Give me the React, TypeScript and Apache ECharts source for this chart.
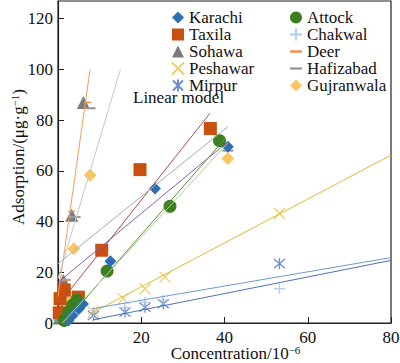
import React, { useEffect, useRef } from "react";
import * as echarts from "echarts";

const FONT = "Liberation Serif";

// Series names
const legendCol1 = ["Karachi", "Taxila", "Sohawa", "Peshawar", "Mirpur"];
const legendCol2 = ["Attock", "Chakwal", "Deer", "Hafizabad", "Gujranwala"];

// Measured points [concentration, adsorption]
const karachi = [[2.5, 1], [3.5, 3], [5, 5.5], [6, 7.5], [12.6, 24.4], [23.3, 53], [40.8, 69.5]];
const taxila = [[0.3, 4], [0.5, 9.6], [1.5, 13], [4.9, 10.2], [10.5, 28.7], [19.7, 60.5], [36.6, 76.7]];
const sohawa = [[0.3, 2], [0.8, 5], [1.3, 16.8], [3.3, 42.5], [6.1, 87]];
const peshawar = [[8.5, 4.3], [15.7, 9.6], [20.9, 13.5], [25.7, 18.1], [53.2, 43.2]];
const mirpur = [[8.5, 3], [16.1, 4.3], [20.9, 6.2], [25.3, 7.6], [53.2, 23.4]];
const attock = [[1.5, 1], [2.5, 4], [3.5, 7], [4.5, 9], [11.8, 20.5], [26.9, 46], [38.8, 71.9]];
const chakwal = [[8.5, 4], [16, 6], [20.9, 8.2], [25.3, 9], [53.2, 13.5]];
const deer = [[0.3, 3], [0.8, 8], [1.8, 17], [3.3, 44], [7.1, 87]];
const hafizabad = [[0.3, 1], [1, 6], [1.7, 17], [4.1, 41.8], [7.7, 84.7], [40.8, 68]];
const gujranwala = [[0.5, 2], [1, 5], [1.5, 8], [2.5, 11], [3.8, 29.3], [7.7, 58.3], [40.8, 64.9]];

// Linear model lines (end points)
const fitDeer = [[0, 10.4], [7.7, 100]];
const fitSohawa = [[0, 17.5], [15, 100]];
const fitTaxila = [[0, 7], [36.5, 82.7]];
const fitGujranwala = [[0, 23.4], [40.8, 77.4]];
const fitKarachi = [[0, 16], [40.8, 71.5]];
const fitAttock = [[1.5, 0], [40, 72.5]];
const fitHafizabad = [[1, 0], [40.8, 71]];
const fitPeshawar = [[7.7, 3.6], [80, 66.2]];
const fitChakwal = [[8.1, 5.6], [80, 25.8]];
const fitMirpur = [[8.5, 1.3], [80, 24.7]];

const xTicks = { min: 0, max: 80, interval: 20 };
const yTicks = { min: 0, max: 127, interval: 20 };

const X_PATH = "path://M0,0L10,10M10,0L0,10";
const STAR_PATH = "path://M0,0L10,10M10,0L0,10M5,-1L5,11";
const PLUS_PATH = "path://M5,0L5,10M0,5L10,5";
const DASH_PATH = "path://M0,0L10,0L10,2L0,2Z";

export default function App() {
  const ref = useRef<HTMLDivElement>(null);
  useEffect(() => {
    if (!ref.current) return;
    const chart = echarts.init(ref.current, null, { renderer: "svg" });

    const scatter = (name: string, data: number[][], symbol: string, size: any, color: string, stroke = false, keep = false) => ({
      name,
      type: "scatter",
      data,
      symbol,
      symbolSize: size,
      symbolKeepAspect: keep,
      z: 3,
      itemStyle: stroke
        ? { color: "rgba(0,0,0,0)", borderColor: color, borderWidth: 1.3 }
        : { color, opacity: 1 },
    });
    const fit = (data: number[][], color: string) => ({
      type: "line",
      data,
      symbol: "none",
      z: 4,
      lineStyle: { color, width: 1 },
      silent: true,
    });

    const legendBase = {
      orient: "vertical",
      top: 4,
      itemWidth: 12,
      itemHeight: 12,
      itemGap: 0,
      textStyle: { fontSize: 17, fontFamily: FONT, color: "#111", lineHeight: 17 },
    };

    chart.setOption({
      animation: false,
      textStyle: { fontFamily: FONT },
      grid: {
        left: 58,
        right: 9,
        top: 1,
        bottom: 40,
        show: true,
        containLabel: false,
        outerBoundsMode: "none",
        borderColor: "#222",
        borderWidth: 1.2,
        backgroundColor: "transparent",
      },
      legend: [
        { ...legendBase, left: 166, data: legendCol1 },
        { ...legendBase, left: 284, data: legendCol2 },
      ],
      xAxis: {
        type: "value",
        ...xTicks,
        splitLine: { show: false },
        axisLine: { lineStyle: { color: "#222", width: 1.2 } },
        axisTick: { inside: true, length: 6, lineStyle: { color: "#222" } },
        axisLabel: { showMinLabel: false, fontSize: 17, fontFamily: FONT, color: "#111", margin: 6 },
        name: "Concentration/10{sup|−6}",
        nameLocation: "middle",
        nameMoveOverlap: false,
        nameGap: 21,
        nameTextStyle: {
          fontSize: 17,
          fontFamily: FONT,
          color: "#111",
          padding: [0, 0, 0, 22],
          rich: { sup: { fontSize: 11, fontFamily: FONT, color: "#111", padding: [0, 0, 8, 0] } },
        },
      },
      yAxis: {
        type: "value",
        ...yTicks,
        splitLine: { show: false },
        axisLine: { lineStyle: { color: "#222", width: 1.2 } },
        axisTick: { inside: true, length: 6, lineStyle: { color: "#222" } },
        axisLabel: {
          showMaxLabel: false,
          fontSize: 17,
          fontFamily: FONT,
          color: "#111",
          margin: 5,
          formatter: (v: number) => (v % 20 === 0 ? String(v) : ""),
        },
        name: "Adsorption/(μg·g{sup|−1})",
        nameLocation: "middle",
        nameMoveOverlap: false,
        nameGap: 30,
        nameTextStyle: {
          fontSize: 17,
          fontFamily: FONT,
          color: "#111",
          padding: [0, 0, 0, 10],
          rich: { sup: { fontSize: 11, fontFamily: FONT, color: "#111", padding: [0, 0, 8, 0] } },
        },
      },
      graphic: [
        {
          type: "text",
          left: 133,
          top: 89,
          style: { text: "Linear model", fontSize: 17, fontFamily: FONT, fill: "#111" },
        },
      ],
      series: [
        fit(fitDeer, "#f0a060"),
        fit(fitSohawa, "#c8c8c8"),
        fit(fitTaxila, "#b8454a"),
        fit(fitGujranwala, "#ababab"),
        fit(fitKarachi, "#8e5fb5"),
        fit(fitAttock, "#5e8e3e"),
        fit(fitHafizabad, "#a9d18e"),
        fit(fitPeshawar, "#e6b830"),
        fit(fitChakwal, "#6d9ad6"),
        fit(fitMirpur, "#4f70bd"),
        scatter("Gujranwala", gujranwala, "diamond", 13, "#fbc55e"),
        scatter("Sohawa", sohawa, "triangle", 13, "#7b7b7b"),
        scatter("Hafizabad", hafizabad, DASH_PATH, 11, "#9a9a9a", false, true),
        scatter("Deer", deer, DASH_PATH, 7, "#ef8a4c", false, true),
        scatter("Taxila", taxila, "rect", 13, "#c9500f"),
        scatter("Attock", attock, "circle", 13, "#3b7f1f"),
        scatter("Karachi", karachi, "diamond", 12, "#2a6fb5"),
        scatter("Peshawar", peshawar, X_PATH, 11, "#e8c040", true),
        scatter("Mirpur", mirpur, STAR_PATH, 11, "#4a6fc2", true),
        scatter("Chakwal", chakwal, PLUS_PATH, 11, "#9dc3e6", true),
      ],
    });
    return () => chart.dispose();
  }, []);
  return <div ref={ref} style={{ position: "absolute", left: 0, top: 0, width: 400, height: 363 }} />;
}
